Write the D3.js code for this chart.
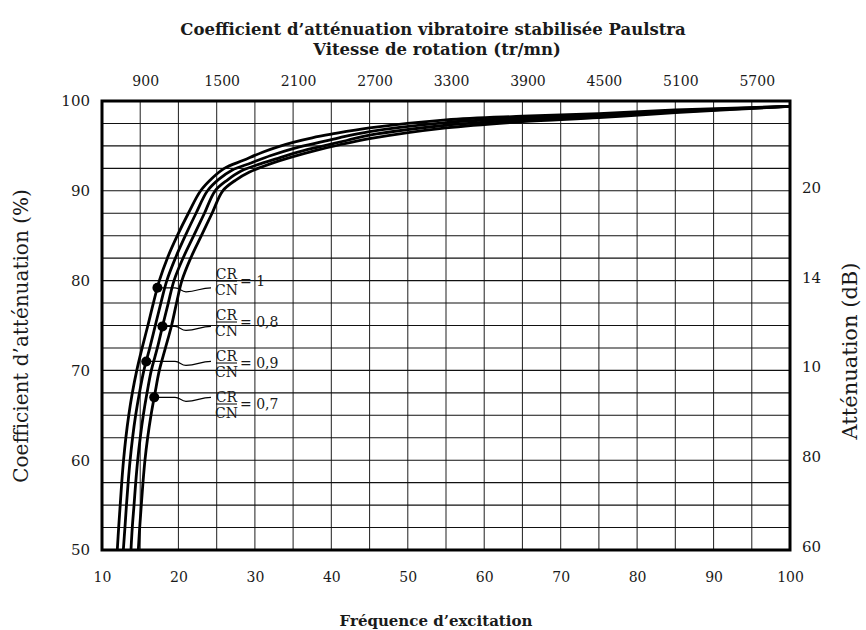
<!DOCTYPE html>
<html>
<head>
<meta charset="utf-8">
<script src="https://cdn.jsdelivr.net/npm/d3@7"></script>
<style>
body { margin: 0; background: #fff; }
svg text { font-family: "DejaVu Serif", serif; fill: #1a1a1a; }
</style>
</head>
<body>
<svg width="866" height="630"></svg>
<script>
// chart values
var freqTicks = [10, 20, 30, 40, 50, 60, 70, 80, 90, 100];
var rpmTicks = [900, 1500, 2100, 2700, 3300, 3900, 4500, 5100, 5700];
var pctTicks = [50, 60, 70, 80, 90, 100];
var dbTickAt = [90, 80, 70, 60, 50];
var dbLabels = ["20", "14", "10", "80", "60"];

// [frequence, coefficient %], one list per curve
var curve1 = [[12.0,50],[12.18,52.5],[12.38,55],[12.58,57.5],[12.82,60],[13.12,62.5],[13.5,65],[13.97,67.5],[14.55,70],[15.25,72.5],[16.0,75],[16.72,77.5],[17.5,80],[18.55,82.5],[19.85,85],[21.3,87.5],[22.9,90],[24.4,91.4],[26.0,92.5],[28.5,93.4],[31,94.3],[33,94.9],[35,95.4],[37.5,95.9],[40,96.3],[45,97.0],[55,97.9],[65,98.3],[75,98.6],[85,99.0],[100,99.4]];
var curve2 = [[12.79,50],[13.0,52.5],[13.2,55],[13.42,57.5],[13.68,60],[14.0,62.5],[14.4,65],[14.9,67.5],[15.48,70],[16.25,72.5],[16.97,75],[17.7,77.5],[18.48,80],[19.6,82.5],[20.9,85],[22.3,87.5],[23.8,90],[25.3,91.3],[27.0,92.3],[29.5,93.1],[32,93.9],[35,94.7],[38,95.3],[41,95.9],[45,96.6],[55,97.6],[65,98.1],[75,98.45],[85,98.9],[100,99.4]];
var curve3 = [[13.79,50],[13.96,52.5],[14.19,55],[14.41,57.5],[14.67,60],[15.0,62.5],[15.4,65],[15.89,67.5],[16.45,70],[17.24,72.5],[17.94,75],[18.67,77.5],[19.42,80],[20.6,82.5],[22.0,85],[23.4,87.5],[24.8,90],[26.4,91.2],[28.2,92.2],[30.7,93.0],[33.3,93.7],[36,94.4],[39,95.0],[42,95.6],[45,96.2],[55,97.3],[65,97.9],[75,98.3],[85,98.8],[100,99.4]];
var curve4 = [[14.75,50],[14.93,52.5],[15.14,55],[15.36,57.5],[15.62,60],[15.97,62.5],[16.41,65],[16.94,67.5],[17.5,70],[18.3,72.5],[19.1,75],[19.75,77.5],[20.45,80],[21.6,82.5],[23.0,85],[24.4,87.5],[25.8,90],[27.5,91.2],[29.3,92.1],[32,93.0],[35,93.8],[38,94.5],[41,95.1],[45,95.8],[55,97.0],[65,97.7],[75,98.15],[85,98.7],[100,99.4]];
var curves = [curve1, curve2, curve3, curve4];

// CR/CN labels, top to bottom, the curve each one points at and the level of its dot
var ratioLabels = ["1", "0,8", "0,9", "0,7"];
var ratioCurve = [0, 2, 1, 3];
var ratioDotPct = [79.2, 74.9, 71.0, 67.0];

var svg = d3.select("svg"),
	pl = 102, pr = 790, pt = 101, pb = 550;

var x = d3.scaleLinear().domain([10, 100]).range([pl, pr]),
	xTop = d3.scaleLinear().domain([600, 6000]).range([pl, pr]),
	y = d3.scaleLinear().domain([50, 100]).range([pb, pt]);

// grid
svg.append("g").selectAll("line").data(d3.range(15, 100, 5)).enter().append("line")
	.attr("x1", function(d) { return x(d) }).attr("x2", function(d) { return x(d) })
	.attr("y1", pt).attr("y2", pb)
	.attr("stroke", "#333").attr("stroke-width", 1.1);
svg.append("g").selectAll("line").data(d3.range(52.5, 100, 2.5)).enter().append("line")
	.attr("y1", function(d) { return y(d) }).attr("y2", function(d) { return y(d) })
	.attr("x1", pl).attr("x2", pr)
	.attr("stroke", "#111").attr("stroke-width", 1.1);

// axes, labels only
function styleAxis(g, size) {
	g.select(".domain").remove();
	g.selectAll("text").style("font-family", "DejaVu Serif").style("font-size", size + "px").attr("fill", "#222");
}
svg.append("g").attr("transform", "translate(0," + pb + ")")
	.call(d3.axisBottom(x).tickValues(freqTicks).tickSize(0).tickPadding(22))
	.call(styleAxis, 14);
svg.append("g").attr("transform", "translate(0," + pt + ")")
	.call(d3.axisTop(xTop).tickValues(rpmTicks).tickSize(0).tickPadding(15).tickFormat(d3.format("d")))
	.call(styleAxis, 14)
	.selectAll("text").attr("dx", 5);
svg.append("g").attr("transform", "translate(" + pl + ",0)")
	.call(d3.axisLeft(y).tickValues(pctTicks).tickSize(0).tickPadding(12))
	.call(styleAxis, 15);
svg.append("g").attr("transform", "translate(" + pr + ",0)")
	.call(d3.axisRight(y).tickValues(dbTickAt).tickSize(0).tickPadding(12)
		.tickFormat(function(d, i) { return dbLabels[i] }))
	.call(styleAxis, 15)
	.selectAll("text").attr("dy", "0.1em");

// curves
var line = d3.line().x(function(d) { return x(d[0]) }).y(function(d) { return y(d[1]) })
	.curve(d3.curveCatmullRom.alpha(0.5));
svg.append("g").selectAll("path").data(curves).enter().append("path")
	.attr("d", line).attr("fill", "none").attr("stroke", "#000").attr("stroke-width", 2.8);

// frame
svg.append("rect").attr("x", pl).attr("y", pt).attr("width", pr - pl).attr("height", pb - pt)
	.attr("fill", "none").attr("stroke", "#000").attr("stroke-width", 3);

// dots, leaders and CR/CN labels
function freqAt(c, v) {
	for (var i = 1; i < c.length; i++) {
		if (c[i][1] >= v) {
			var t = (v - c[i-1][1]) / (c[i][1] - c[i-1][1]);
			return c[i-1][0] + t * (c[i][0] - c[i-1][0]);
		}
	}
	return c[c.length - 1][0];
}
var lab = svg.append("g");
ratioLabels.forEach(function(r, i) {
	var dx = x(freqAt(curves[ratioCurve[i]], ratioDotPct[i])),
		dy = y(ratioDotPct[i]),
		by = 281 + i * 41, fx = 216;
	lab.append("path")
		.attr("d", "M" + dx + "," + dy + " H175 C180," + dy + " 181," + (dy + 4) + " 186," + (dy + 4)
			+ " C197," + (dy + 4) + " 200," + dy + " 211," + dy)
		.attr("fill", "none").attr("stroke", "#000").attr("stroke-width", 1.2);
	lab.append("circle").attr("cx", dx).attr("cy", dy).attr("r", 5).attr("fill", "#000");
	lab.append("text").attr("x", fx + 10.5).attr("y", by - 2.5).attr("text-anchor", "middle")
		.style("font-size", "14px").text("CR");
	lab.append("line").attr("x1", fx).attr("x2", fx + 21).attr("y1", by).attr("y2", by)
		.attr("stroke", "#000").attr("stroke-width", 1);
	lab.append("text").attr("x", fx + 10.5).attr("y", by + 14).attr("text-anchor", "middle")
		.style("font-size", "14px").text("CN");
	lab.append("text").attr("x", fx + 24).attr("y", by + 5)
		.style("font-size", "14px").text("= " + r);
});

// titles
svg.append("text").attr("x", 433).attr("y", 35).attr("text-anchor", "middle")
	.style("font-size", "16.5px").style("font-weight", "bold")
	.text("Coefficient d’atténuation vibratoire stabilisée Paulstra");
svg.append("text").attr("x", 437).attr("y", 55).attr("text-anchor", "middle")
	.style("font-size", "16.5px").style("font-weight", "bold")
	.text("Vitesse de rotation (tr/mn)");
svg.append("text").attr("transform", "translate(28,336) rotate(-90)").attr("text-anchor", "middle")
	.style("font-size", "20px").text("Coefficient d’atténuation (%)");
svg.append("text").attr("transform", "translate(857,351) rotate(-90)").attr("text-anchor", "middle")
	.style("font-size", "21px").text("Atténuation (dB)");
svg.append("text").attr("x", 436).attr("y", 626).attr("text-anchor", "middle")
	.style("font-size", "15px").style("font-weight", "bold")
	.text("Fréquence d’excitation");
</script>
</body>
</html>
